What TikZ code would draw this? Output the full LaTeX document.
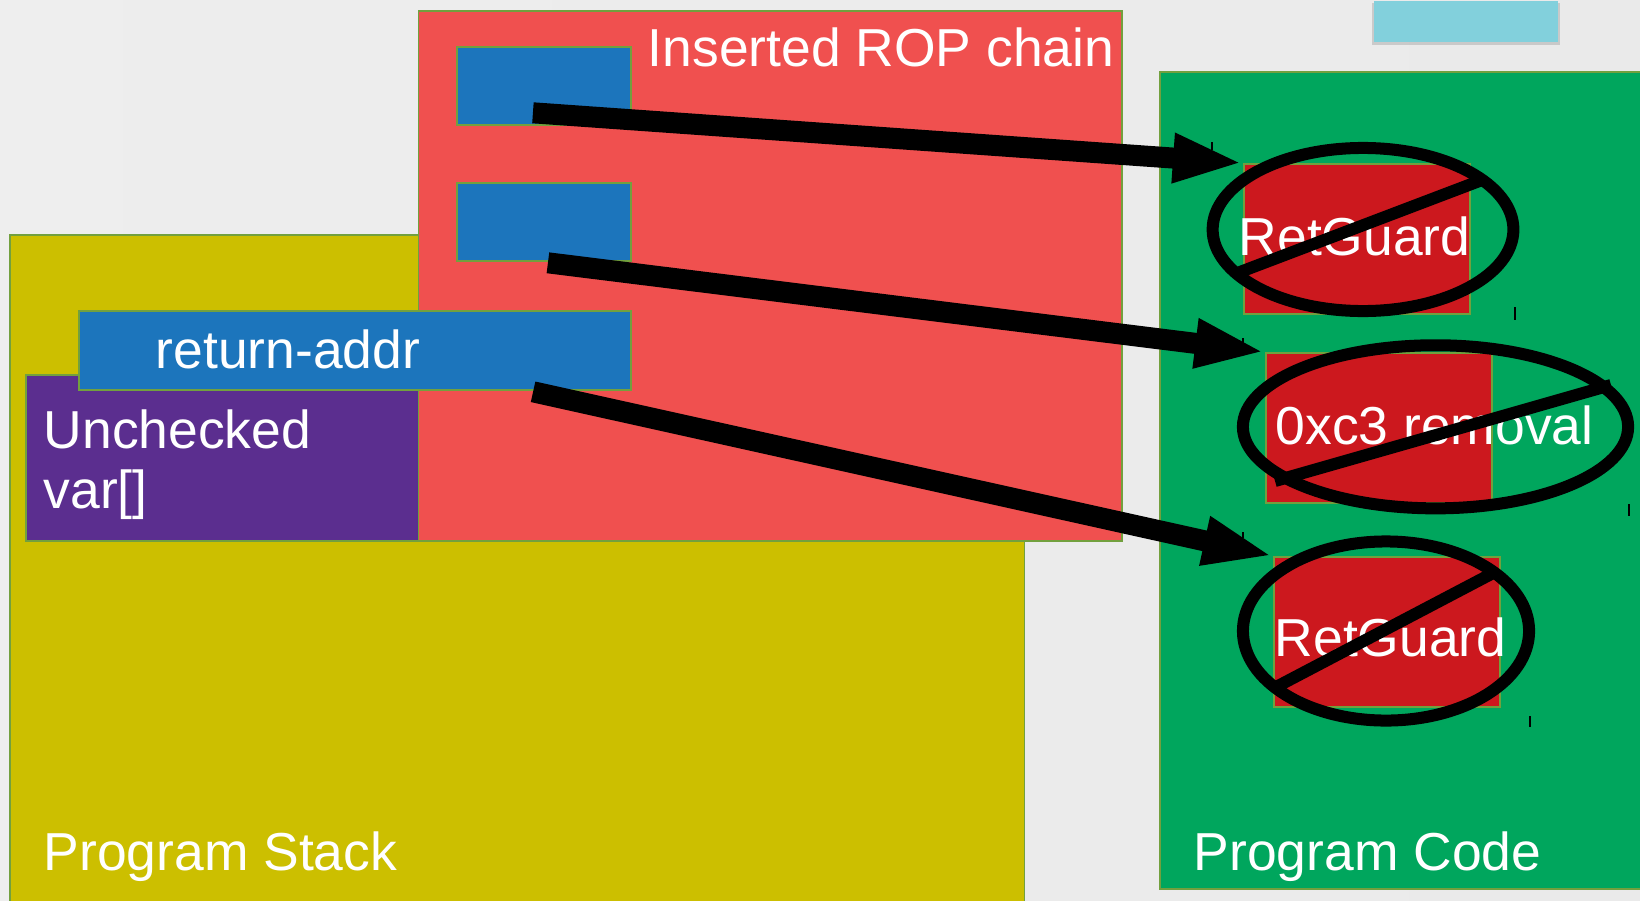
\documentclass[tikz,border=0pt]{standalone}
\usepackage{fontspec}
\setmainfont{Liberation Sans}
\usetikzlibrary{arrows.meta,calc,shadows}
\definecolor{stackyel}{RGB}{204,191,0}
\definecolor{ropred}{RGB}{240,80,79}
\definecolor{gadblue}{RGB}{28,117,188}
\definecolor{varpurp}{RGB}{91,46,143}
\definecolor{codegrn}{RGB}{0,166,93}
\definecolor{guardred}{RGB}{204,24,30}
\definecolor{skyblue}{RGB}{130,208,220}
\definecolor{edgegrn}{RGB}{114,160,62}
\tikzset{
  blk/.style={draw=edgegrn, line width=0.5pt, inner sep=0pt, anchor=north west},
  lbl/.style={text=white, inner sep=0pt, anchor=base west, font=\fontsize{15.2}{17.1}\selectfont},
  jmp/.style={-{Triangle[length=7mm,width=4.5mm]}, line width=2.1mm},
  ring/.style={line width=1.2mm},
  tick/.style={line width=0.4pt},
}
\begin{document}
\begin{tikzpicture}[x=0.01cm, y=-0.01cm]
\useasboundingbox (0,0) rectangle (1640,900);
\shade[left color=black!6, middle color=black!3, right color=black!9] (-820,-50) rectangle (2460,950);
% stack frame and the injected chain
\node[blk, fill=stackyel, minimum width=10.14cm, minimum height=6.8cm] (stack) at (9,234) {};
\node[blk, fill=ropred, minimum width=7.035cm, minimum height=5.297cm] (rop) at (417.5,10.3) {};
\node[blk, fill=gadblue, minimum width=1.74cm, minimum height=0.78cm] (gadA) at (456,46) {};
\node[blk, fill=gadblue, minimum width=1.74cm, minimum height=0.78cm] (gadB) at (456,182) {};
\node[blk, fill=varpurp, minimum width=3.925cm, minimum height=1.66cm] (uvar) at (25,374) {};
\node[blk, fill=gadblue, minimum width=5.52cm, minimum height=0.79cm] (retaddr) at (78,310) {};
% code side
\node[blk, fill=codegrn, minimum width=5cm, minimum height=8.17cm] (code) at (1159,71) {};
\node[blk, draw=none, fill=skyblue, minimum width=1.84cm, minimum height=0.41cm,
  drop shadow={shadow xshift=0pt, shadow yshift=-0.6pt, shadow scale=1.025, opacity=0.3}] (note) at (1373,0) {};
\node[blk, fill=guardred, minimum width=2.26cm, minimum height=1.5cm] (guardA) at (1243,163) {};
\node[blk, fill=guardred, minimum width=2.26cm, minimum height=1.5cm] (guardB) at (1265,352) {};
\node[blk, fill=guardred, minimum width=2.26cm, minimum height=1.5cm] (guardC) at (1273,556) {};
% labels
\node[lbl, anchor=base east] (roplbl) at (1115,66) {Inserted ROP chain};
\node[lbl] (retlbl) at (155,368) {return-addr};
\node[lbl, align=left, anchor=north west] (uvarlbl) at (43,409) {Unchecked\\var[]};
\node[lbl] (stacklbl) at (43,870) {Program Stack};
\node[lbl] (codelbl) at (1193,870) {Program Code};
\node[lbl] (lblA) at (1238,255) {RetGuard};
\node[lbl] (lblB) at (1275,444) {0xc3 removal};
\node[lbl] (lblC) at (1274,656) {RetGuard};
% jumps into the code
\coordinate (fromA) at ($(gadA.south)+(-11,-13)$);
\coordinate (fromB) at ($(gadB.south)+(4,1)$);
\coordinate (fromR) at ($(retaddr.south east)+(-99,1)$);
\draw[jmp] (fromA) -- (guardA.north west);
\draw[jmp] (fromB) -- (guardB.north west);
\draw[jmp] (fromR) -- (guardC.north west);
% struck out defences
\draw[ring] (1363,229.5) ellipse [x radius=1.503cm, y radius=0.815cm];
\draw[ring] (1240,272) -- (1482,180);
\draw[ring] (1435.5,426.8) ellipse [x radius=1.925cm, y radius=0.815cm];
\draw[ring] (1275,481) -- (1611,385);
\draw[ring] (1386,631) ellipse [x radius=1.43cm, y radius=0.895cm];
\draw[ring] (1276,687) -- (1495,572);
% handle marks
\draw[tick] (1212,142) -- (1212,150);
\draw[tick] (1515,307) -- (1515,320);
\draw[tick] (1243,338) -- (1243,345);
\draw[tick] (1629,504) -- (1629,516);
\draw[tick] (1243,532) -- (1243,538);
\draw[tick] (1530,716) -- (1530,727);
\end{tikzpicture}
\end{document}
